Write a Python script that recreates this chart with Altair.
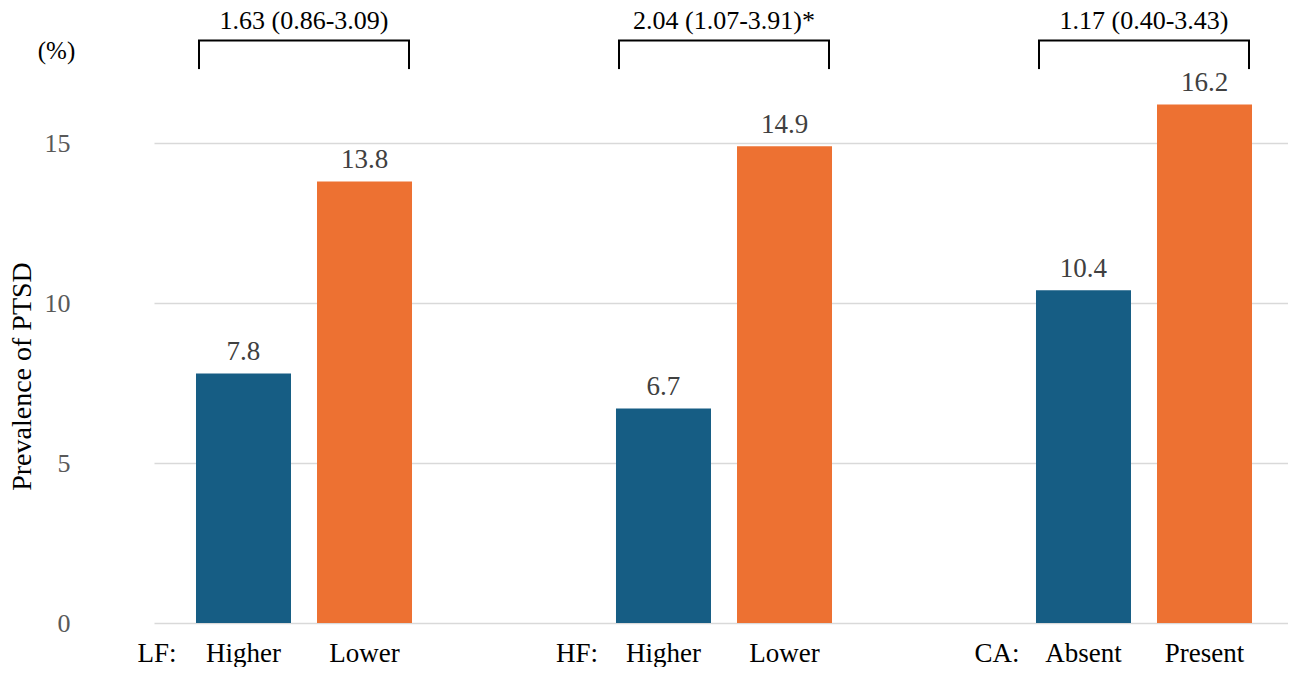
import altair as alt
import pandas as pd

# ---- data ----
groups = ["LF", "HF", "CA"]
group_labels = ["LF:", "HF:", "CA:"]
first_levels = ["Higher", "Higher", "Absent"]
second_levels = ["Lower", "Lower", "Present"]
first_values = [7.8, 6.7, 10.4]
second_values = [13.8, 14.9, 16.2]
odds_ratios = ["1.63 (0.86-3.09)", "2.04 (1.07-3.91)*", "1.17 (0.40-3.43)"]
y_ticks = [0, 5, 10, 15]

rows = []
for g, la, lb, va, vb in zip(groups, first_levels, second_levels, first_values, second_values):
    rows.append({"group": g, "slot": "a", "level": la, "value": va})
    rows.append({"group": g, "slot": "b", "level": lb, "value": vb})
bars_df = pd.DataFrame(rows)
groups_df = pd.DataFrame({"group": groups, "label": group_labels, "or": odds_ratios})
pct_df = pd.DataFrame({"t": ["(%)"]})

FONT = "Liberation Serif"
FONT_VALUES = "Tinos"
FONT_LEVELS = "Times New Roman"
FONT_OR = "'Liberation Serif'"
W, H = 1193, 614
YMAX = 19.1875
BRACKET_TOP = 18.2
BRACKET_LEG = 17.31
OR_TEXT_Y = 18.55
PCT_Y = 17.88
LABEL_Y = H + 38.7

x_scale = alt.Scale(range=[59, 1199], paddingInner=0.2857, paddingOuter=0)
off_scale = alt.Scale(paddingInner=0.215, paddingOuter=0.347)
y_scale = alt.Scale(domain=[0, YMAX], nice=False, zero=True)


def X(bp=None):
    if bp is None:
        return alt.X("group:N", sort=groups, scale=x_scale, axis=None)
    return alt.X("group:N", sort=groups, scale=x_scale, axis=None, bandPosition=bp)


xoff = alt.XOffset("slot:N", sort=["a", "b"], scale=off_scale)

y_axis = alt.Axis(
    values=y_ticks, title="Prevalence of PTSD", grid=True, gridColor="#d9d9d9",
    gridWidth=1.3, domain=False, ticks=False, labelPadding=25, labelFont=FONT,
    labelFontSize=26, labelColor="#595959", titleFont=FONT, titleFontSize=28,
    titleColor="#000000", titleFontWeight="normal", titleAngle=270, titleX=-65,
    titleY=367, titleBaseline="alphabetic", titleAlign="center",
)


def YD(v):
    return alt.YDatum(v, scale=y_scale, axis=y_axis, title="Prevalence of PTSD")


base = alt.Chart(bars_df)

bars = base.mark_bar().encode(
    x=X(), xOffset=xoff,
    y=alt.Y("value:Q", scale=y_scale, axis=y_axis, title="Prevalence of PTSD"),
    color=alt.Color("slot:N", scale=alt.Scale(domain=["a", "b"], range=["#165D84", "#ED7132"]), legend=None),
)

values = base.mark_text(font=FONT_VALUES, fontSize=27, color="#404040", baseline="alphabetic", dy=-13.5).encode(
    x=X(), xOffset=xoff,
    y=alt.Y("value:Q", scale=y_scale, axis=y_axis, title="Prevalence of PTSD"),
    text=alt.Text("value:Q", format=".1f"),
)

levels = base.mark_text(font=FONT_LEVELS, fontSize=27, color="#000000", baseline="alphabetic").encode(
    x=X(), xOffset=xoff, y=alt.value(LABEL_Y), text="level:N",
)

gbase = alt.Chart(groups_df)
glabels = gbase.mark_text(font=FONT_LEVELS, fontSize=27, color="#000000", baseline="alphabetic", align="center").encode(
    x=X(0.01), y=alt.value(LABEL_Y), text="label:N",
)

top_line = gbase.mark_rule(color="#000000", strokeWidth=2, strokeCap="square").encode(
    x=X(0.15), x2=alt.X2("group:N", bandPosition=0.85),
    y=YD(BRACKET_TOP),
)
leg_left = gbase.mark_rule(color="#000000", strokeWidth=2).encode(
    x=X(0.15), y=YD(BRACKET_LEG), y2=alt.Y2Datum(BRACKET_TOP),
)
leg_right = gbase.mark_rule(color="#000000", strokeWidth=2).encode(
    x=X(0.85), y=YD(BRACKET_LEG), y2=alt.Y2Datum(BRACKET_TOP),
)
or_text = gbase.mark_text(font=FONT_OR, fontSize=26, color="#000000", baseline="alphabetic").encode(
    x=X(0.5), y=YD(OR_TEXT_Y), text="or:N",
)

pct = alt.Chart(pct_df).mark_text(font=FONT, fontSize=25, color="#000000", baseline="middle").encode(
    x=alt.value(-38.5), y=YD(PCT_Y), text="t:N",
)

chart = alt.layer(bars, values, levels, glabels, top_line, leg_left, leg_right, or_text, pct).properties(
    width=W, height=H, padding=0,
).configure_view(stroke=None)

chart.save("out.html", embed_options={"renderer": "svg", "actions": False})
